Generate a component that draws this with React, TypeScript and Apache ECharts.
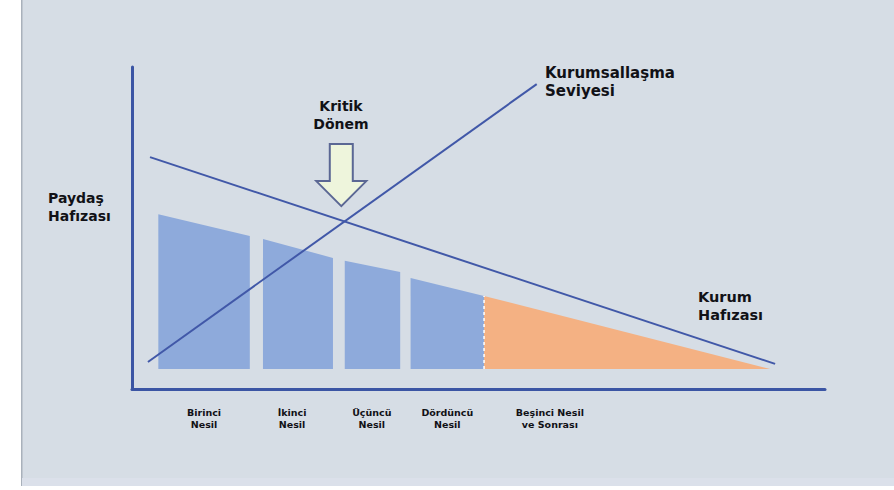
import React, { useEffect, useRef } from "react";
import * as echarts from "echarts";

// Generations (x in relative time units 0-100, y in relative memory units 0-100)
const generations = ["Birinci\nNesil", "İkinci\nNesil", "Üçüncü\nNesil", "Dördüncü\nNesil", "Beşinci Nesil\nve Sonrası"];
const genStart = [3.8, 18.9, 30.7, 40.2, 50.8];
const genEnd = [17.0, 29.0, 38.7, 50.8, 92.1];
const genTopStart = [54.3, 46.6, 39.8, 34.5, 28.9];
const genTopEnd = [47.5, 40.7, 36.3, 28.9, 6.2];
const genColors = ["#8eaadb", "#8eaadb", "#8eaadb", "#8eaadb", "#f4b183"];
const baseline = 6.2;
const labelX = [10.4, 23.1, 34.6, 45.5, 60.3];

const kurumHafizasi = [[2.6, 72.0], [92.8, 7.8]];
const kurumsallasma = [[2.3, 8.4], [58.4, 94.7]];
const kritikDonemTip = [30.2, 56.8];

const FONT = "DejaVu Sans";

export default function App() {
  const ref = useRef<HTMLDivElement>(null);
  useEffect(() => {
    if (!ref.current) return;
    const chart = echarts.init(ref.current, null, { renderer: "svg" });
    const genData = generations.map((g, i) => [genStart[i], genEnd[i], genTopStart[i], genTopEnd[i], i]);
    chart.setOption({
      animation: false,
      backgroundColor: "#ffffff",
      grid: { left: 132, right: 69, top: 67, bottom: 101 },
      xAxis: {
        type: "value", min: 0, max: 100,
        axisLine: { show: true, lineStyle: { color: "#3b55a4", width: 3 } },
        axisTick: { show: false }, axisLabel: { show: false }, splitLine: { show: false },
      },
      yAxis: {
        type: "value", min: 0, max: 100,
        axisLine: { show: true, lineStyle: { color: "#3b55a4", width: 3 } },
        axisTick: { show: false }, axisLabel: { show: false }, splitLine: { show: false },
      },
      graphic: [
        { type: "rect", z: -100, silent: true, shape: { x: 22, y: 0, width: 872, height: 486 }, style: { fill: "#d6dde5" } },
        { type: "rect", z: -99, silent: true, shape: { x: 21, y: 0, width: 1.5, height: 486 }, style: { fill: "#a9b1bb" } },
        { type: "rect", z: -98, silent: true, shape: { x: 22, y: 478, width: 872, height: 8 }, style: { fill: "#dbe0ea" } },
        { type: "text", left: 48, top: 189, style: { text: "Paydaş\nHafızası", font: `bold 14px "${FONT}"`, fill: "#111116", lineHeight: 18 } },
        { type: "text", x: 341, y: 97, style: { text: "Kritik\nDönem", font: `bold 14px "${FONT}"`, fill: "#111116", lineHeight: 18, align: "center" } },
        { type: "text", left: 545, top: 64, style: { text: "Kurumsallaşma\nSeviyesi", font: `bold 15px "${FONT}"`, fill: "#111116", lineHeight: 18 } },
        { type: "text", left: 698, top: 288, style: { text: "Kurum\nHafızası", font: `bold 14.5px "${FONT}"`, fill: "#111116", lineHeight: 18 } },
      ],
      series: [
        {
          type: "custom",
          data: genData,
          z: 2,
          renderItem: (params: any, api: any) => {
            const i = api.value(4);
            const x0 = api.value(0), x1 = api.value(1), t0 = api.value(2), t1 = api.value(3);
            const pts = [api.coord([x0, baseline]), api.coord([x0, t0]), api.coord([x1, t1]), api.coord([x1, baseline])];
            const children: any[] = [
              { type: "polygon", shape: { points: pts }, style: { fill: genColors[i] } },
            ];
            if (i === generations.length - 1) {
              const a = api.coord([x0, baseline]);
              const b = api.coord([x0, t0]);
              children.push({ type: "line", shape: { x1: a[0], y1: a[1], x2: b[0], y2: b[1] }, style: { stroke: "#ffffff", lineWidth: 1.5, lineDash: [3, 3] } });
            }
            return { type: "group", children };
          },
        },
        {
          type: "custom",
          data: labelX.map((x, i) => [x, i]),
          clip: false,
          renderItem: (params: any, api: any) => {
            const p = api.coord([api.value(0), 0]);
            return {
              type: "text",
              x: p[0], y: p[1] + 17,
              style: { text: generations[params.dataIndex], font: `bold 9.5px "${FONT}"`, fill: "#111116", align: "center", verticalAlign: "top", lineHeight: 12 },
            };
          },
        },
        {
          type: "line", data: kurumHafizasi, symbol: "none", z: 3,
          lineStyle: { color: "#4158a8", width: 2 },
        },
        {
          type: "line", data: kurumsallasma, symbol: "none", z: 3,
          lineStyle: { color: "#4158a8", width: 2 },
        },
        {
          type: "custom",
          data: [kritikDonemTip],
          z: 4,
          renderItem: (params: any, api: any) => {
            const p = api.coord([api.value(0), api.value(1)]);
            const rel = [[0, 0], [-25, -25], [-11.5, -25], [-11.5, -62], [11.5, -62], [11.5, -25], [25, -25]];
            return {
              type: "polygon",
              shape: { points: rel.map(([dx, dy]) => [p[0] + dx, p[1] + dy]) },
              style: { fill: "#eef5dc", stroke: "#5b6794", lineWidth: 2, lineJoin: "miter" },
            };
          },
        },
      ],
    });
    return () => chart.dispose();
  }, []);
  return <div ref={ref} style={{ position: "fixed", left: 0, top: 0, width: 894, height: 490 }} />;
}
